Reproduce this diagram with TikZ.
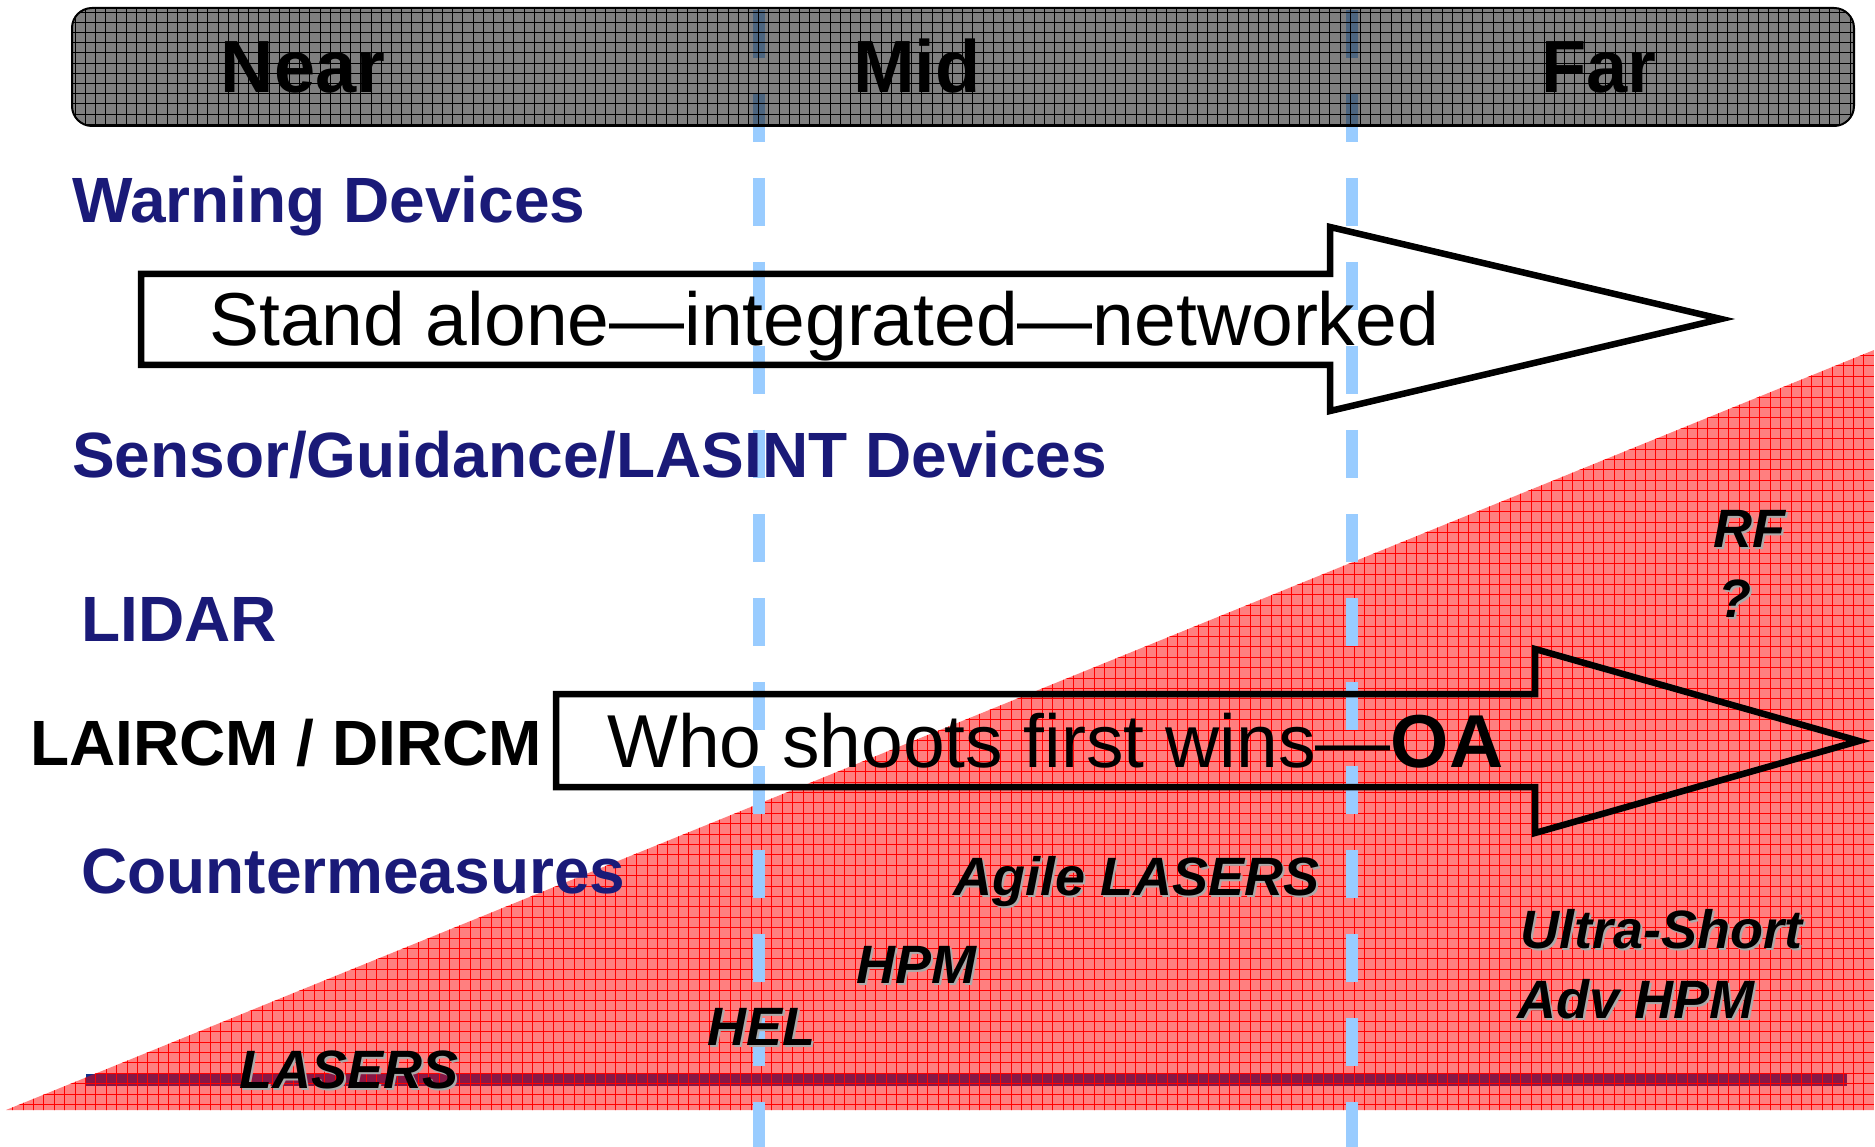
\documentclass[tikz,border=0pt]{standalone}
\usepackage{fontspec}
\setmainfont{Liberation Sans}
\definecolor{navy}{RGB}{26,26,120}
\definecolor{dashblue}{RGB}{153,204,255}
\definecolor{lineblue}{RGB}{16,48,140}
\definecolor{shadowgray}{RGB}{170,170,170}

% italic technology label with a soft grey drop shadow
\newcommand\techlabel[4]{%
  \node[tech, text=shadowgray] (#1-shadow) at (#2+2.5,#3+2.5) {#4};
  \node[tech] (#1) at (#2,#3) {#4};}

\begin{document}
\begin{tikzpicture}[x=1pt,y=-1pt,
  rowlabel/.style={anchor=base west, inner sep=0pt,
    font=\fontsize{64}{70}\selectfont\bfseries, text=navy},
  zone/.style={anchor=base, inner sep=0pt,
    font=\fontsize{74}{80}\selectfont\bfseries},
  tech/.style={anchor=base west, inner sep=0pt,
    font=\fontsize{54}{60}\selectfont\bfseries\itshape},
  bigarrow/.style={draw=black, line width=6.5pt, line join=miter},
  arrowtext/.style={anchor=base west, inner sep=0pt,
    font=\fontsize{75}{80}\selectfont},
  gridline/.style={line width=0.6pt},
  divider/.style={dashblue, line width=12pt, line cap=butt,
    dash pattern=on 48pt off 36pt}]

\useasboundingbox (0,0) rectangle (1875,1147);

% baseline
\coordinate (base-l) at (86,1080);
\coordinate (base-r) at (1847,1080);
\draw[lineblue, line width=12pt] (base-l) -- (base-r);

% growing wedge of capability
\begin{scope}
  \clip (6,1110) -- (1874,350) -- (1874,1110) -- cycle;
  \fill[red, fill opacity=0.5] (0,340) rectangle (1875,1115);
  \foreach \gx in {2,12.4,...,1875}
    \draw[red, gridline] (\gx,340) -- (\gx,1115);
  \foreach \gy in {345,355.4,...,1115}
    \draw[red, gridline] (0,\gy) -- (1875,\gy);
\end{scope}

% near / mid / far dividers
\coordinate (d1-top) at (759,10);
\coordinate (d1-bot) at (759,1147);
\coordinate (d2-top) at (1352,10);
\coordinate (d2-bot) at (1352,1147);
\draw[divider] (d1-top) -- (d1-bot);
\draw[divider] (d2-top) -- (d2-bot);

% header bar
\begin{scope}
  \clip[rounded corners=20pt] (72,8) rectangle (1854,126);
  \fill[black, fill opacity=0.5] (72,8) rectangle (1854,126);
  \foreach \gx in {75,85.2,...,1854}
    \draw[black, gridline] (\gx,8) -- (\gx,126);
  \foreach \gy in {12,22.2,...,126}
    \draw[black, gridline] (72,\gy) -- (1854,\gy);
\end{scope}
\draw[black, line width=2pt, rounded corners=20pt] (72,8) rectangle (1854,126);

\node[zone] (near) at (303,93) {Near};
\node[zone] (mid)  at (917,93) {Mid};
\node[zone] (far)  at (1599,93) {Far};

% row labels
\node[rowlabel] (warn)   at (72,223)  {Warning Devices};
\node[rowlabel] (sensor) at (72,478)  {Sensor/Guidance/LASINT Devices};
\node[rowlabel] (lidar)  at (81,641)  {LIDAR};
\node[rowlabel, text=black] (laircm) at (30,765) {LAIRCM / DIRCM};
\node[rowlabel] (cm)     at (81,893)  {Countermeasures};

% block arrows
\draw[bigarrow] (141,274) -- (1330,274) -- (1330,227) -- (1721,319)
  -- (1330,411) -- (1330,365) -- (141,365) -- cycle;
\node[arrowtext] (standalone) at (209,346) {Stand alone—integrated—networked};

\draw[bigarrow] (556,694) -- (1535,694) -- (1535,649) -- (1859,741)
  -- (1535,833) -- (1535,787) -- (556,787) -- cycle;
\node[arrowtext] (shoots) at (607,767) {Who shoots first wins—\textbf{OA}};

% technologies
\techlabel{lasers}{239}{1088}{LASERS}
\techlabel{hel}{707}{1045}{HEL}
\techlabel{hpm}{856}{983}{HPM}
\techlabel{agile}{953}{895}{Agile LASERS}
\techlabel{ultra}{1520}{948}{Ultra-Short}
\techlabel{advhpm}{1517}{1018}{Adv HPM}
\techlabel{rf}{1713}{547}{RF}
\techlabel{query}{1718}{617}{?}

\end{tikzpicture}
\end{document}
